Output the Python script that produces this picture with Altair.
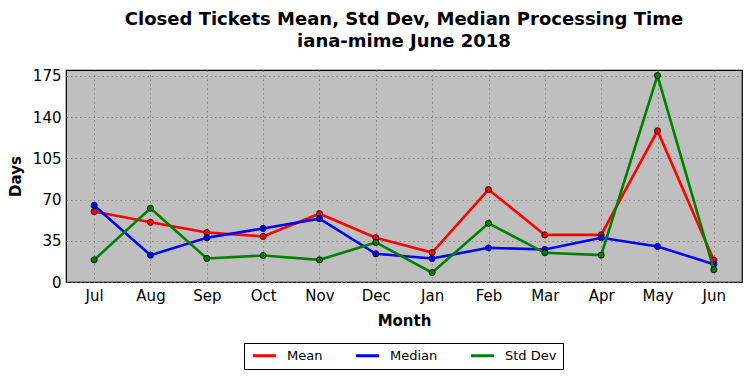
import altair as alt
import pandas as pd

months = ["Jul", "Aug", "Sep", "Oct", "Nov", "Dec", "Jan", "Feb", "Mar", "Apr", "May", "Jun"]
series_names = ["Mean", "Median", "Std Dev"]
mean_days = [59.8, 50.7, 42.0, 38.7, 58.0, 37.6, 25.0, 78.5, 40.0, 40.0, 128.4, 18.5]
median_days = [65.0, 22.8, 37.5, 45.5, 53.8, 23.9, 20.0, 29.0, 27.6, 37.6, 30.2, 15.0]
std_days = [18.8, 62.6, 20.0, 22.5, 18.8, 33.6, 8.0, 49.8, 24.8, 22.8, 175.3, 10.5]
y_ticks = [0, 35, 70, 105, 140, 175]
colors = ["#ff0000", "#0000ff", "#008000"]

rows = []
for name, vals in zip(series_names, [mean_days, median_days, std_days]):
    for m, v in zip(months, vals):
        rows.append({"Month": m, "Series": name, "Days": v})
df = pd.DataFrame(rows)

FONT = "DejaVu Sans"

x_enc = alt.X("Month:N", sort=months, scale=alt.Scale(type="point", padding=0.5),
              axis=alt.Axis(title="Month", labelAngle=0))
y_enc = alt.Y("Days:Q", scale=alt.Scale(domain=[0, 180], nice=False, zero=True),
              axis=alt.Axis(title="Days", values=y_ticks))
color_enc = alt.Color("Series:N", scale=alt.Scale(domain=series_names, range=colors),
                      legend=alt.Legend(title=None, orient="none", legendX=178, legendY=273,
                                        direction="horizontal", columns=3,
                                        symbolType="M-0.7,0H3.9", symbolSize=100,
                                        symbolStrokeWidth=3, labelOffset=24,
                                        columnPadding=27, padding=6,
                                        strokeColor="black", fillColor="white",
                                        labelFontSize=13, labelFont=FONT,
                                        labelColor="black"))

layers = []
for name in series_names:
    base = alt.Chart(df).transform_filter(alt.datum.Series == name)
    layers.append(base.mark_line(strokeWidth=2.6).encode(x=x_enc, y=y_enc, color=color_enc))
    layers.append(base.mark_circle(size=38, opacity=1, stroke="black", strokeWidth=0.8)
                  .encode(x=x_enc, y=y_enc, color=color_enc))

chart = alt.layer(*layers).properties(
    width=676,
    height=212,
    background="white",
    autosize=alt.AutoSizeParams(type="none"),
    padding={"left": 58, "top": 62, "right": 2, "bottom": 90},
    title=alt.TitleParams(
        text=["Closed Tickets Mean, Std Dev, Median Processing Time", "iana-mime June 2018"],
        font=FONT, fontSize=18, fontWeight="bold", color="black",
        anchor="middle", frame="group", lineHeight=22, offset=18),
).configure_view(
    fill="#bfbfbf", stroke="black", strokeWidth=1.2
).configure_axis(
    labelFont=FONT, labelFontSize=15, labelColor="black",
    titleFont=FONT, titleFontSize=15, titleFontWeight="bold", titleColor="black",
    grid=True, gridColor="#777777", gridDash=[1.5, 3], gridWidth=0.8,
    ticks=False, domain=False, labelPadding=6,
).configure_axisY(
    titlePadding=9, labelPadding=5
).configure_axisX(
    titlePadding=10
)

chart.save("out.html", embed_options={"renderer": "svg", "actions": False})
